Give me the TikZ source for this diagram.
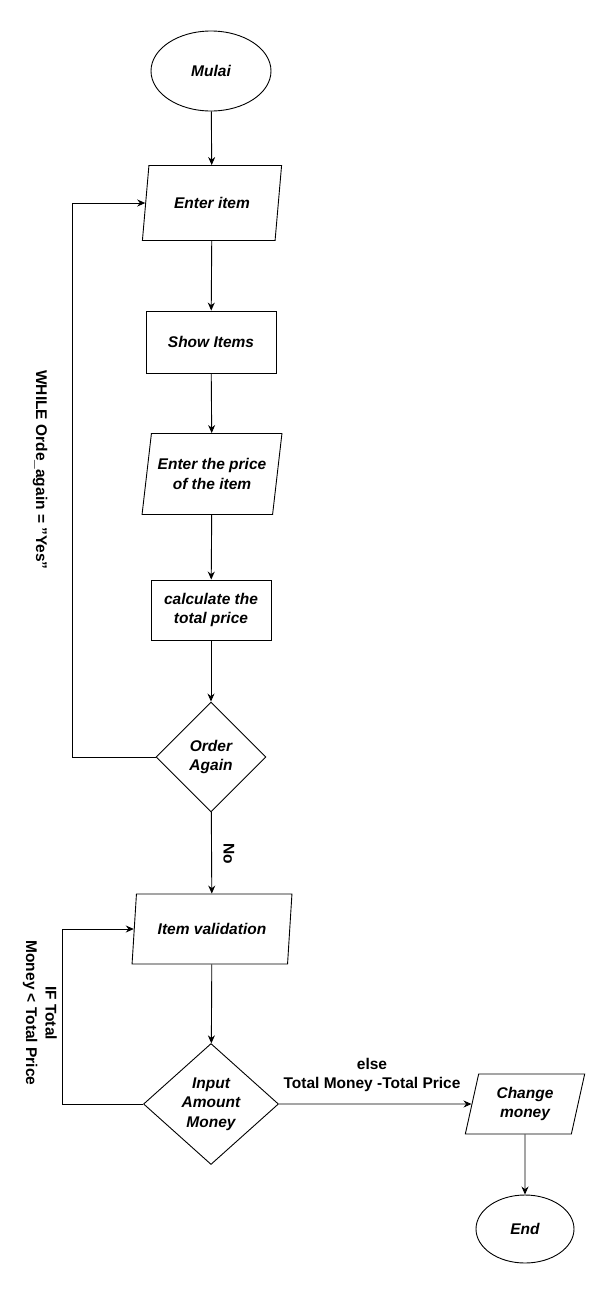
\documentclass[tikz,border=0pt]{standalone}
\usepackage{fontspec}
\setmainfont{Liberation Sans}
\usetikzlibrary{shapes.geometric,arrows.meta}

\begin{document}
\begin{tikzpicture}[x=1pt,y=-1pt,
  every node/.style={font=\fontsize{15.5}{19.5}\selectfont},
  box/.style={draw,line width=0.9pt,fill=white,align=center,inner sep=2pt,font=\fontsize{15.5}{19.5}\selectfont\bfseries\itshape},
  term/.style={box,ellipse},
  proc/.style={box,rectangle},
  io/.style={box,trapezium,trapezium stretches=true},
  decide/.style={box,diamond,inner sep=0pt},
  label/.style={align=center,font=\fontsize{15.5}{19.5}\selectfont\bfseries},
  arrow/.style={line width=0.9pt,-{Stealth[length=8pt,width=7pt]}}]

\useasboundingbox (0,0) rectangle (611,1291);

\node[term,minimum width=120,minimum height=80] (start) at (211,71) {Mulai};
\node[io,trapezium left angle=75,trapezium right angle=105,minimum width=140,minimum height=75] (enter) at (212,203) {Enter item};
\node[proc,minimum width=130,minimum height=62] (show) at (211,342) {Show Items};
\node[io,trapezium left angle=76,trapezium right angle=104,minimum width=140,minimum height=81] (price) at (212,474) {Enter the price\\of the item};
\node[proc,minimum width=120,minimum height=60] (calc) at (211,610) {calculate the\\total price};
\node[decide,minimum width=110,minimum height=110] (again) at (211,757) {Order\\Again};
\node[io,trapezium left angle=78,trapezium right angle=102,minimum width=160,minimum height=70] (valid) at (212,929) {Item validation};
\node[decide,minimum width=135,minimum height=121] (money) at (211,1104) {Input\\Amount\\Money};
\node[io,trapezium left angle=77,trapezium right angle=103,minimum width=120,minimum height=60] (change) at (525,1104) {Change\\money};
\node[term,minimum width=98,minimum height=68] (end) at (525,1229) {End};

% loop corners
\coordinate (whileturn) at (72,757);
\coordinate (ifturn) at (62,1104);

\draw[arrow] (start) -- (enter);
\draw[arrow] (enter) -- (show);
\draw[arrow] (show) -- (price);
\draw[arrow] (price) -- (calc);
\draw[arrow] (calc) -- (again);
\draw[arrow] (again.west) -- (whileturn) |- (enter.west);
\draw[arrow] (again) -- (valid);
\draw[arrow] (valid) -- (money);
\draw[arrow] (money.west) -- (ifturn) |- (valid.west);
\draw[arrow] (money.east) -- (change.west);
\draw[arrow] (change) -- (end);

\node[label,rotate=-90] (whilelbl) at (40,470) {WHILE Orde\_again = \char34Yes\char34};
\node[label,rotate=-90] (nolbl) at (229,854) {No};
\node[label,rotate=-90] (iflbl) at (40,1013) {IF Total\\Money < Total Price};
\node[label] (elselbl) at (372,1075) {else\\Total Money -Total Price};

\end{tikzpicture}
\end{document}
